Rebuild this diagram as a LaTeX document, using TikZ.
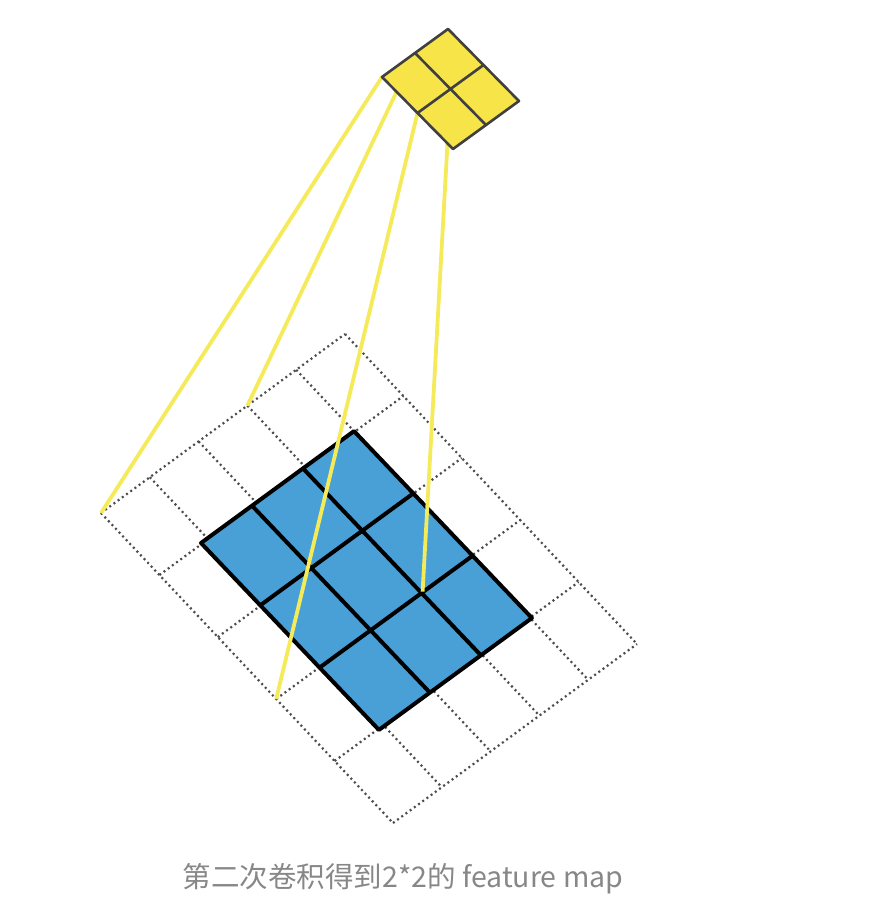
\documentclass[tikz,border=0pt]{standalone}
\usepackage{fontspec}
\newfontfamily\cjkfont{Noto Sans CJK SC}
\usepackage{tikz}
\usetikzlibrary{positioning}
\definecolor{mapyellow}{RGB}{247,228,72}
\definecolor{linkyellow}{RGB}{245,234,90}
\definecolor{mapblue}{RGB}{72,160,215}
\definecolor{captiongray}{RGB}{135,135,135}

\begin{document}
\begin{tikzpicture}[
  x=1pt, y=-1pt,
  gridline/.style={draw=black!70, line width=2.2pt, dash pattern=on 2pt off 3.2pt},
  bluegrid/.style={draw=black, line width=4pt, line join=round},
  yellowgrid/.style={draw=black!75, line width=2.6pt, line join=round},
  link/.style={draw=linkyellow, line width=3.8pt},
  gridframe/.style={shift={(101,513)}, x={(48.8pt,35.8pt)}, y={(58.4pt,-62pt)}},
  blueframe/.style={shift={(201,543)}, x={(51pt,37.3pt)}, y={(59.3pt,-62.3pt)}},
  mapframe/.style={shift={(382,77)}, x={(33pt,24pt)}, y={(35.5pt,-36pt)}},
]
\useasboundingbox (0,0) rectangle (880,922);

% 5x5 input
\begin{scope}[gridframe]
  \foreach \k in {0,...,5} {
    \draw[gridline] (\k,0) -- (\k,5);
    \draw[gridline] (0,\k) -- (5,\k);
  }
  \coordinate (in00) at (0,0);
  \coordinate (in30) at (3,0);
  \coordinate (in03) at (0,3);
  \coordinate (in33) at (3,3);
\end{scope}

% 3x3 result of the first step
\begin{scope}[blueframe]
  \fill[mapblue] (0,0) -- (3,0) -- (3,3) -- (0,3) -- cycle;
  \foreach \k in {1,2} {
    \draw[bluegrid] (\k,0) -- (\k,3);
    \draw[bluegrid] (0,\k) -- (3,\k);
  }
  \draw[bluegrid] (0,0) -- (3,0) -- (3,3) -- (0,3) -- cycle;
\end{scope}

% corners of the 2x2 map
\begin{scope}[mapframe]
  \coordinate (out00) at (0,0);
  \coordinate (out10) at (1,0);
  \coordinate (out01) at (0,1);
  \coordinate (out11) at (1,1);
\end{scope}

\draw[link] (in00) -- (out00);
\draw[link] (in30) -- (out10);
\draw[link] (in03) -- (out01);
\draw[link] (in33) -- (out11);

% 2x2 feature map
\begin{scope}[mapframe]
  \fill[mapyellow] (0,0) -- (2,0) -- (2,2) -- (0,2) -- cycle;
  \draw[yellowgrid] (1,0) -- (1,2);
  \draw[yellowgrid] (0,1) -- (2,1);
  \draw[yellowgrid] (0,0) -- (2,0) -- (2,2) -- (0,2) -- cycle;
\end{scope}

\node[text=captiongray, font=\cjkfont\fontsize{28.5}{34}\selectfont] (caption) at (403,879)
  {第二次卷积得到2*2的 feature map};
\end{tikzpicture}
\end{document}
